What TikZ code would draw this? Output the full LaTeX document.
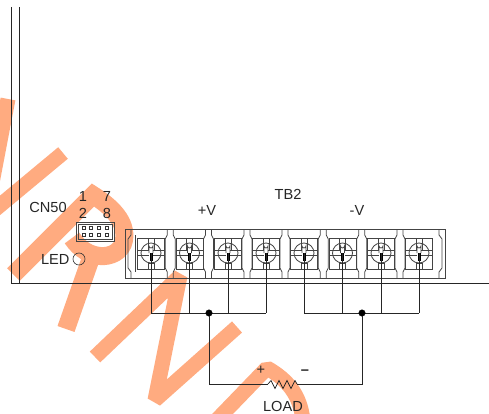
\documentclass[tikz,border=0pt]{standalone}
\usepackage{fontspec}
\setmainfont{Liberation Sans}
\usetikzlibrary{calc}
\usetikzlibrary{positioning}
\definecolor{stampcolor}{HTML}{FFAB80}
\definecolor{blockgray}{HTML}{444444}
\tikzset{
    stamp/.style={
        draw=stampcolor,
        line width=15pt,
        line cap=butt,
        line join=bevel,
    },
    stamp heavy/.style={
        stamp,
        line width=18pt,
        line join=miter,
    },
    wire/.style={
        draw=black!85,
        line width=0.9pt,
    },
    block line/.style={
        draw=blockgray,
        line width=0.8pt,
    },
    junction/.style={
        draw,
        fill,
        circle,
        minimum size=6.5pt,
        inner sep=0,
    },
    label/.style={
        font=\fontsize{14.6}{16}\selectfont,
        inner sep=0,
        text=black!85,
    },
    pin/.style={
        draw=black!80,
        line width=0.7pt,
        minimum size=2.6pt,
        inner sep=0,
    },
}
\begin{document}
\begin{tikzpicture}[x=1pt,y=-1pt]
    \useasboundingbox (0,0) rectangle (489,414);

    % watermark letters
    \draw[stamp] (8,99) -- (-8,183);
    \draw[stamp] (63,153) -- (-20,222);
    \draw[stamp heavy] (13.5,274.5) -- (93,195) .. controls (112,207) and (127,222) .. (124,240) .. controls (122,252) and (110,257) .. (100,256) .. controls (90,255) and (80,250) .. (72,238);
    \draw[stamp heavy] (92,255) -- (66,329);
    \draw[stamp] (95,357) -- (180,276) -- (155,400) -- (237,327);
    \draw[stamp] (210,427) -- (267,368) .. controls (288,380) and (300,395) .. (303,420);

    \foreach \x/\px in {1/151,2/189.5,3/228,4/266,5/304,6/342.5,7/381,8/419}
    {
        \coordinate (s\x) at (\px,253);
        \coordinate (w\x) at (\px,313);
    }

    \newcommand\terminalscrew[1]{
        \draw[block line] ($(#1)+(-13.5,-15)$) rectangle ($(#1)+(13.5,16)$);
        \draw[block line] ($(#1)+(-3,10)$) rectangle ($(#1)+(3,16)$);
        \draw[block line,fill=white] (#1) circle (10);
        \draw[block line] ($(#1)+(-13.5,-2.5)$) -- ($(#1)+(13.5,-2.5)$);
        \draw[block line] ($(#1)+(-13.5,2.5)$) -- ($(#1)+(13.5,2.5)$);
        \draw[block line] ($(#1)+(-3,-15)$) -- ($(#1)+(-3,-3)$);
        \draw[block line] ($(#1)+(3,-15)$) -- ($(#1)+(3,-3)$);
        \fill[white] ($(#1)+(-2,8)$) rectangle ($(#1)+(2,-8)$);
        \draw[block line] ($(#1)+(-2,0)$) -- ($(#1)+(-2,-7)$) arc (180:0:2) -- ($(#1)+(2,0)$);
        \fill[black] ($(#1)+(-1.5,0)$) rectangle ($(#1)+(1.5,8)$);
    }

    % terminal block
    \draw[block line] (125,229) rectangle (445,278);
    \foreach \sx in {170.25,208.5,247,285,323.25,361.75,400}
    {
        \draw[block line] ($(\sx,229)+(-3,0)$) -- ++(0,6) -- ++(-2,4) -- ++(0,29) -- ++(2,4) -- ++(0,6);
        \draw[block line] ($(\sx,229)+(3,0)$) -- ++(0,6) -- ++(2,4) -- ++(0,29) -- ++(-2,4) -- ++(0,6);
    }
    \draw[block line] (131,229) -- (131,235) -- (128,239) -- (128,268) -- (131,272) -- (131,278);
    \draw[block line] (135,235) -- (135,272);
    \draw[block line] (439,229) -- (439,235) -- (442,239) -- (442,268) -- (439,272) -- (439,278);
    \foreach \x in {1,...,8}
    {
        \terminalscrew{s\x}
    }

    % chassis
    \coordinate (c0) at (11.5,7);
    \coordinate (c1) at (19,7);
    \coordinate (c2) at (11.5,283);
    \coordinate (c3) at (19,283);
    \coordinate (c4) at (489,283);
    \draw[wire] (c0) -- (c2) -- (c4);
    \draw[wire] (c1) -- (c3);

    % wiring
    \foreach \x in {1,...,8}
    {
        \draw[wire] (s\x) -- (w\x);
    }
    \draw[wire] (w1) -- (w4);
    \draw[wire] (w5) -- (w8);
    \node[junction] (jp) at (209,313) {};
    \node[junction] (jn) at (362,313) {};
    \coordinate (lp) at (209,384);
    \coordinate (ln) at (362,384);
    \coordinate (ra) at (268,384);
    \coordinate (rb) at (297,384);
    \draw[wire] (jp) -- (lp) -- (ra);
    \draw[wire,line width=0.7pt] (ra) -- ++(3,-3.5) -- ++(4,8) -- ++(4,-8) -- ++(4,8) -- ++(4,-8) -- ++(4,8) -- ++(4,-8) -- (rb);
    \draw[wire] (rb) -- (ln) -- (jn);

    % connector
    \draw[block line] (76,222) rectangle (114,241);
    \draw[block line] (78,224) rectangle (112,239);
    \foreach \px in {84,91,99,107}
    {
        \node[pin] (pa\px) at (\px,228) {};
        \node[pin] (pb\px) at (\px,235) {};
    }
    \node[draw=black!80,line width=0.6pt,circle,minimum size=12pt,inner sep=0] (led) at (79,259) {};

    % labels
    \node[label] (cn) at (48,207) {CN50};
    \node[label] (p1) at (83,196) {1};
    \node[label] (p7) at (107,196) {7};
    \node[label] (p2) at (83,213) {2};
    \node[label] (p8) at (107,213) {8};
    \node[label,left=3pt of led] (ledtxt) {LED};
    \node[label] (vp) at (207,210) {+V};
    \node[label] (tb) at (288,194) {TB2};
    \node[label] (vn) at (357,210) {-V};
    \node[label] (plus) at (261,370) {+};
    \node[label] (minus) at (305,372) {\textbf{--}};
    \node[label] (load) at (283,406) {LOAD};
\end{tikzpicture}
\end{document}
